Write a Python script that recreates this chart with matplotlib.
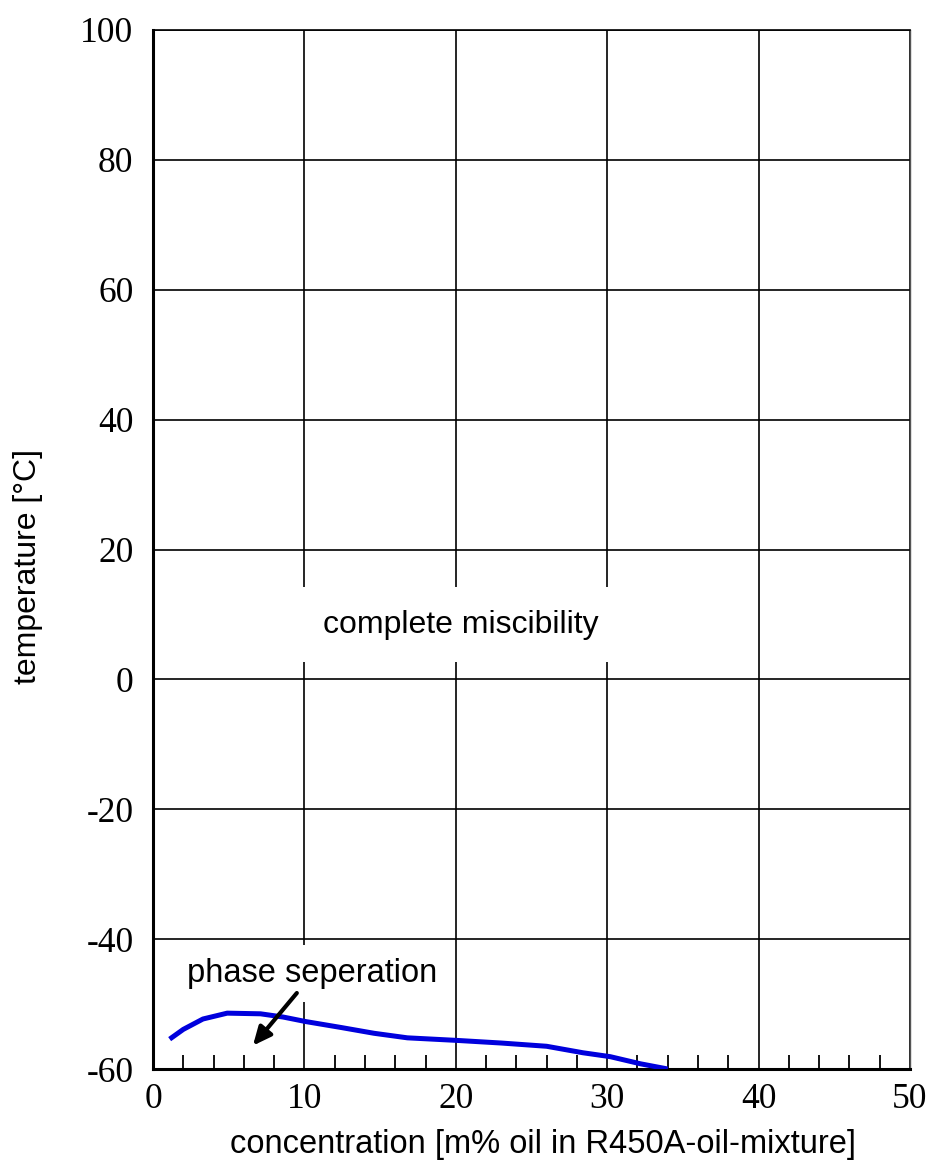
import matplotlib
matplotlib.use("Agg")
import matplotlib.pyplot as plt
from matplotlib.ticker import MultipleLocator

plt.rcParams["axes.unicode_minus"] = False

# Data
conc = [1.1, 2.0, 3.3, 4.9, 7.1, 8.6, 10.1, 12.4, 14.6, 16.8, 20.1, 23.0, 26.0, 28.4, 30.2, 32.2, 34.0]
temp = [-55.4, -53.9, -52.3, -51.4, -51.5, -52.0, -52.7, -53.6, -54.5, -55.2, -55.6, -56.0, -56.5, -57.5, -58.1, -59.2, -60.0]

x_ticks = [0, 10, 20, 30, 40, 50]
y_ticks = [-60, -40, -20, 0, 20, 40, 60, 80, 100]

fig = plt.figure(figsize=(9.33, 11.62), dpi=100)
ax = fig.add_axes([153/933, 1 - 1069/1162, (910 - 153)/933, (1069 - 30)/1162])

ax.set_xlim(0, 50)
ax.set_ylim(-60, 100)
ax.set_xticks(x_ticks)
ax.set_yticks(y_ticks)
ax.xaxis.set_minor_locator(MultipleLocator(2))
ax.grid(True, which="major", color="black", linewidth=1.2)
ax.set_axisbelow(True)

ax.tick_params(axis="both", which="major", length=0, pad=14,
               labelsize=25.5, labelfontfamily="Liberation Serif")
ax.tick_params(axis="x", which="major", pad=10)
ax.tick_params(axis="x", which="minor", direction="in", length=10, width=1.3, color="black")
ax.tick_params(axis="y", which="minor", length=0)

ax.spines["left"].set_linewidth(2.2)
ax.spines["bottom"].set_linewidth(2.2)
ax.spines["top"].set_linewidth(1.2)
ax.spines["right"].set_linewidth(1.0)
ax.spines["right"].set_color("#555555")

ax.plot(conc, temp, color="#0000dd", linewidth=3.6, solid_capstyle="butt", zorder=3)

ax.text(20.3, 8.4, "complete miscibility", fontsize=23, family="Liberation Sans",
        ha="center", va="center", zorder=4,
        bbox=dict(facecolor="white", edgecolor="none", boxstyle="square,pad=0.7"))
ax.text(10.5, -45.3, "phase seperation", fontsize=23.5, family="Liberation Sans",
        ha="center", va="center", zorder=4,
        bbox=dict(facecolor="white", edgecolor="none", boxstyle="square,pad=0.4"))

ax.annotate("", xy=(6.6, -56.4), xytext=(9.5, -48.3),
            arrowprops=dict(arrowstyle="-|>,head_length=1.1,head_width=0.5",
                            color="black", linewidth=3, shrinkA=0, shrinkB=0),
            zorder=5)

ax.set_xlabel("concentration [m% oil in R450A-oil-mixture]", fontsize=23.5,
              family="Liberation Sans")
ax.xaxis.set_label_coords((543 - 153) / 757, -(1129 - 1069) / 1039)
ax.set_ylabel("temperature [°C]", fontsize=23, family="Liberation Sans")
ax.yaxis.set_label_coords(-(153 - 43) / 757, (1069 - 566) / 1039)

fig.savefig("out.png", dpi=100)
